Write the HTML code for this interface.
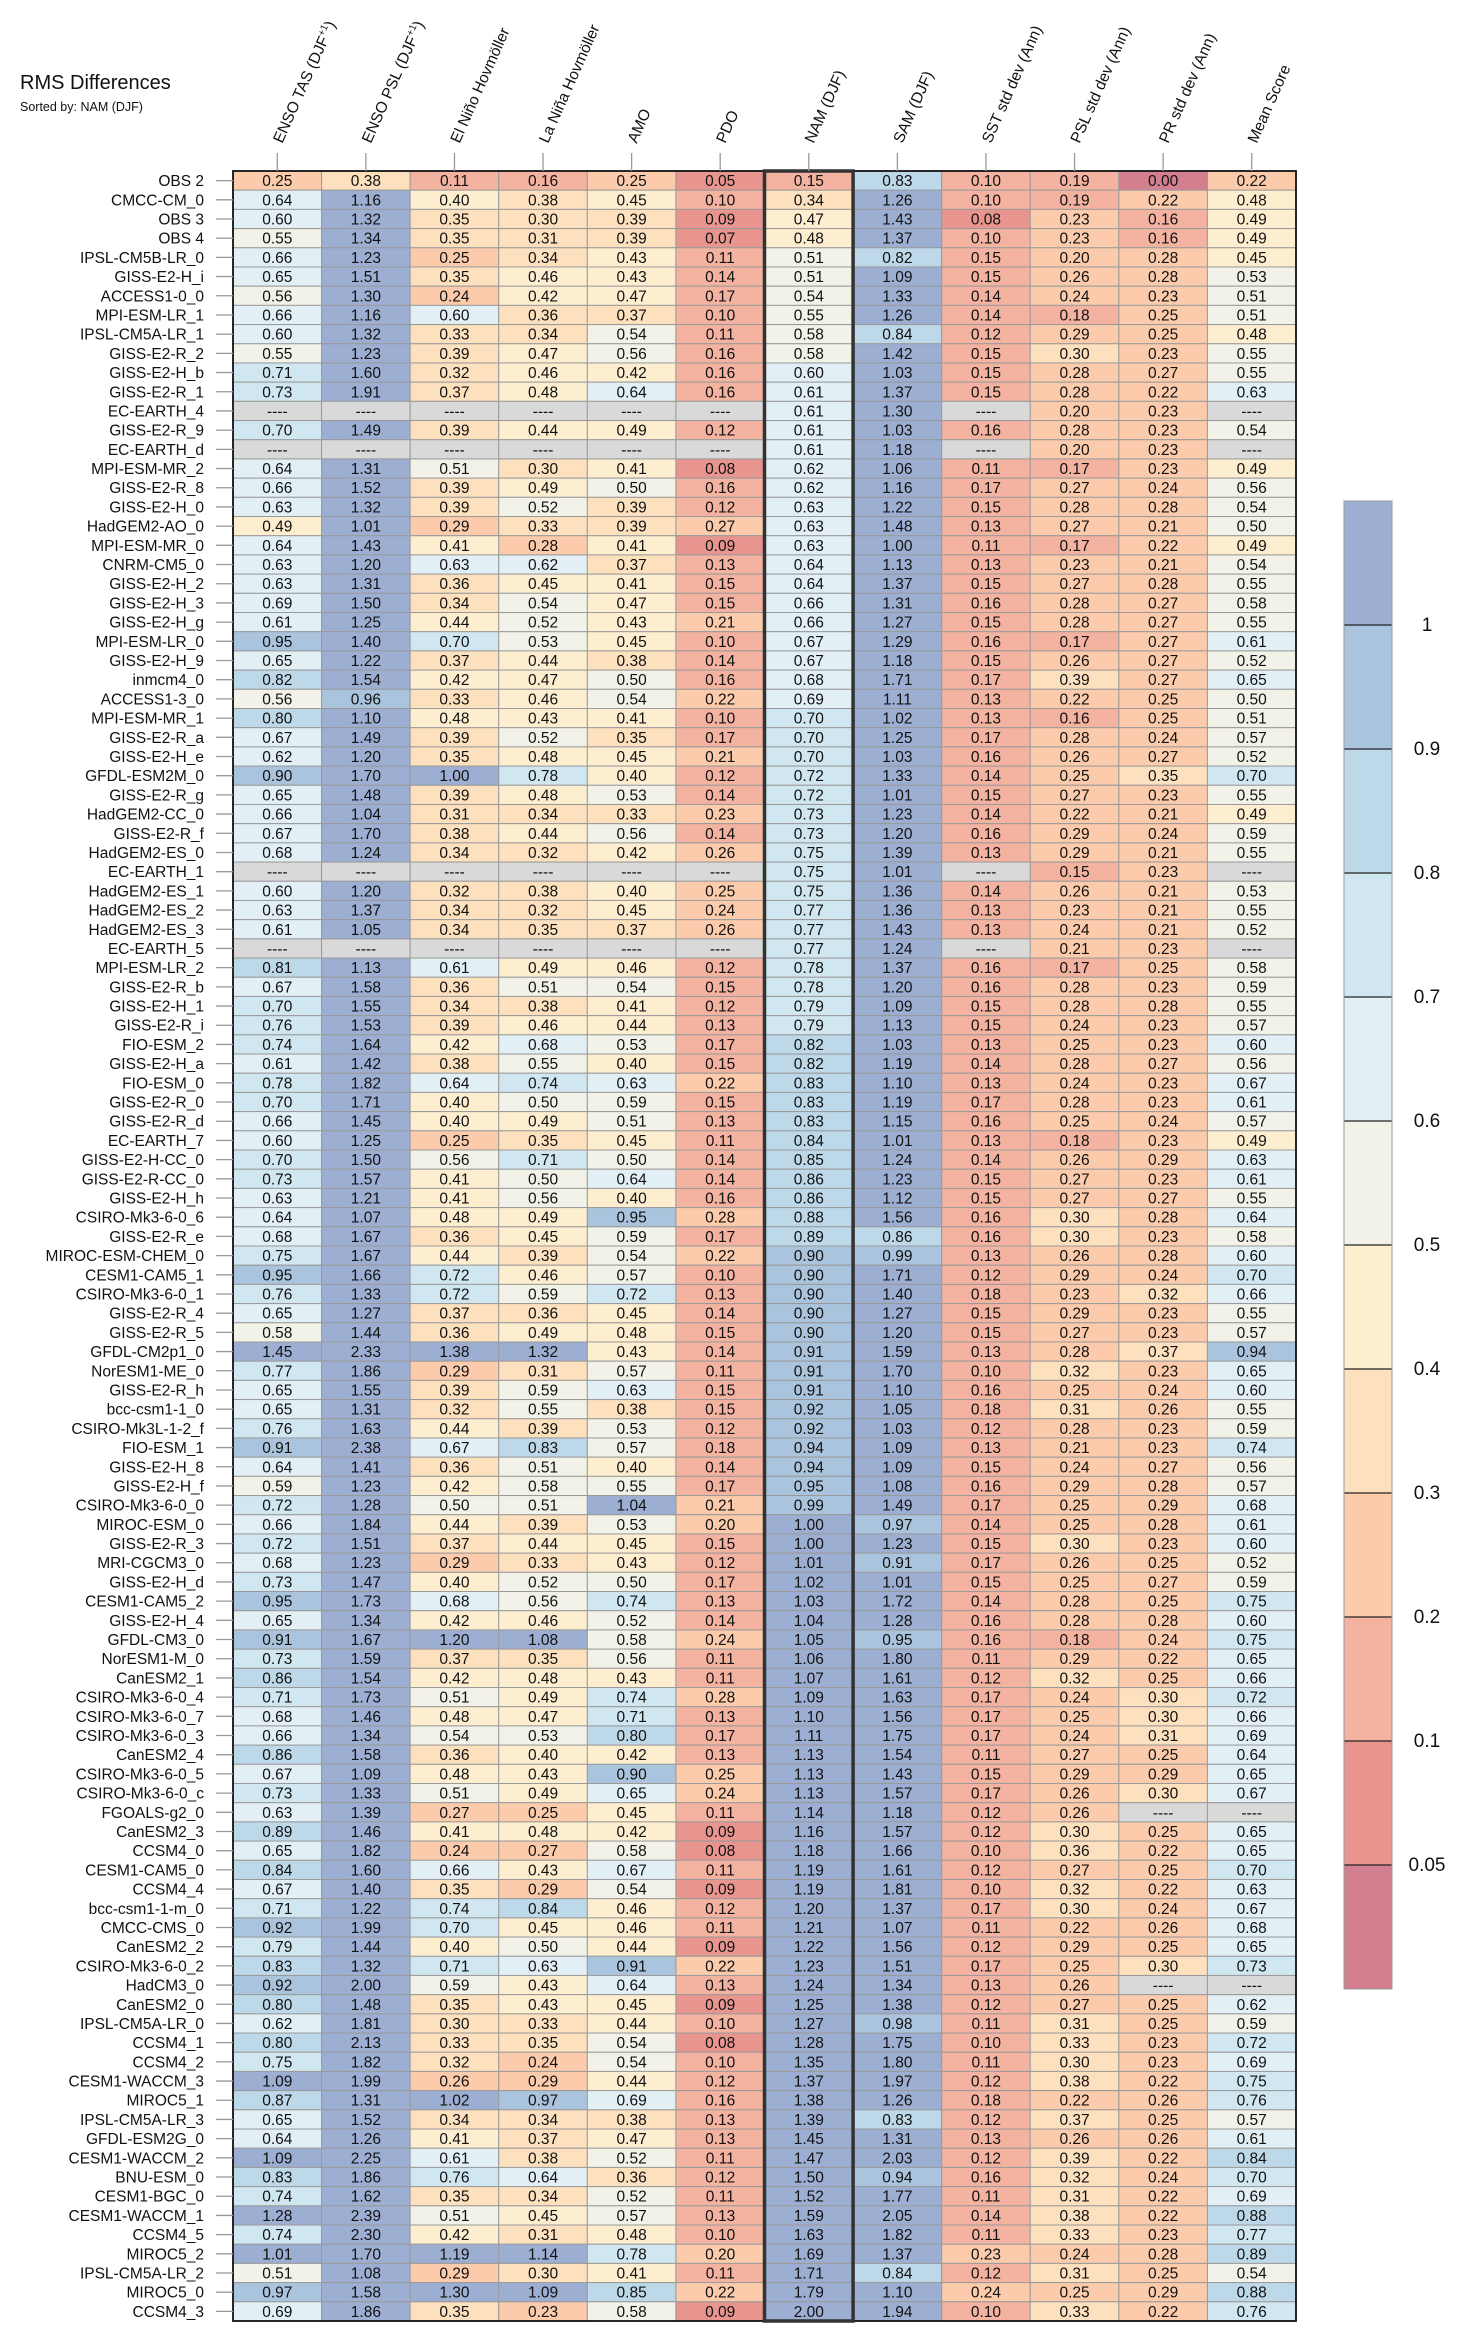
<!DOCTYPE html>
<html><head><meta charset="utf-8">
<style>
html,body{margin:0;padding:0;background:#fff;}
svg{display:block;font-family:"Liberation Sans",sans-serif;}
</style></head>
<body>
<svg id="chart" width="1469" height="2342" viewBox="0 0 1469 2342">
<text x="20" y="89" font-size="20" fill="#111">RMS Differences</text>
<text x="20" y="111" font-size="12.5" fill="#111">Sorted by: NAM (DJF)</text>
<g id="cells"></g><g id="rows"></g><g id="cols"></g><g id="cbar"></g>
</svg>
<script>
const metrics = ["ENSO TAS (DJF+1)","ENSO PSL (DJF+1)","El Niño Hovmöller","La Niña Hovmöller","AMO","PDO","NAM (DJF)","SAM (DJF)","SST std dev (Ann)","PSL std dev (Ann)","PR std dev (Ann)","Mean Score"];
const models = ["OBS 2","CMCC-CM_0","OBS 3","OBS 4","IPSL-CM5B-LR_0","GISS-E2-H_i","ACCESS1-0_0","MPI-ESM-LR_1","IPSL-CM5A-LR_1","GISS-E2-R_2","GISS-E2-H_b","GISS-E2-R_1","EC-EARTH_4","GISS-E2-R_9","EC-EARTH_d","MPI-ESM-MR_2","GISS-E2-R_8","GISS-E2-H_0","HadGEM2-AO_0","MPI-ESM-MR_0","CNRM-CM5_0","GISS-E2-H_2","GISS-E2-H_3","GISS-E2-H_g","MPI-ESM-LR_0","GISS-E2-H_9","inmcm4_0","ACCESS1-3_0","MPI-ESM-MR_1","GISS-E2-R_a","GISS-E2-H_e","GFDL-ESM2M_0","GISS-E2-R_g","HadGEM2-CC_0","GISS-E2-R_f","HadGEM2-ES_0","EC-EARTH_1","HadGEM2-ES_1","HadGEM2-ES_2","HadGEM2-ES_3","EC-EARTH_5","MPI-ESM-LR_2","GISS-E2-R_b","GISS-E2-H_1","GISS-E2-R_i","FIO-ESM_2","GISS-E2-H_a","FIO-ESM_0","GISS-E2-R_0","GISS-E2-R_d","EC-EARTH_7","GISS-E2-H-CC_0","GISS-E2-R-CC_0","GISS-E2-H_h","CSIRO-Mk3-6-0_6","GISS-E2-R_e","MIROC-ESM-CHEM_0","CESM1-CAM5_1","CSIRO-Mk3-6-0_1","GISS-E2-R_4","GISS-E2-R_5","GFDL-CM2p1_0","NorESM1-ME_0","GISS-E2-R_h","bcc-csm1-1_0","CSIRO-Mk3L-1-2_f","FIO-ESM_1","GISS-E2-H_8","GISS-E2-H_f","CSIRO-Mk3-6-0_0","MIROC-ESM_0","GISS-E2-R_3","MRI-CGCM3_0","GISS-E2-H_d","CESM1-CAM5_2","GISS-E2-H_4","GFDL-CM3_0","NorESM1-M_0","CanESM2_1","CSIRO-Mk3-6-0_4","CSIRO-Mk3-6-0_7","CSIRO-Mk3-6-0_3","CanESM2_4","CSIRO-Mk3-6-0_5","CSIRO-Mk3-6-0_c","FGOALS-g2_0","CanESM2_3","CCSM4_0","CESM1-CAM5_0","CCSM4_4","bcc-csm1-1-m_0","CMCC-CMS_0","CanESM2_2","CSIRO-Mk3-6-0_2","HadCM3_0","CanESM2_0","IPSL-CM5A-LR_0","CCSM4_1","CCSM4_2","CESM1-WACCM_3","MIROC5_1","IPSL-CM5A-LR_3","GFDL-ESM2G_0","CESM1-WACCM_2","BNU-ESM_0","CESM1-BGC_0","CESM1-WACCM_1","CCSM4_5","MIROC5_2","IPSL-CM5A-LR_2","MIROC5_0","CCSM4_3"];
const values = [
[.25,.38,.11,.16,.25,.05,.15,.83,.10,.19,.00,.22],
[.64,1.16,.40,.38,.45,.10,.34,1.26,.10,.19,.22,.48],
[.60,1.32,.35,.30,.39,.09,.47,1.43,.08,.23,.16,.49],
[.55,1.34,.35,.31,.39,.07,.48,1.37,.10,.23,.16,.49],
[.66,1.23,.25,.34,.43,.11,.51,.82,.15,.20,.28,.45],
[.65,1.51,.35,.46,.43,.14,.51,1.09,.15,.26,.28,.53],
[.56,1.30,.24,.42,.47,.17,.54,1.33,.14,.24,.23,.51],
[.66,1.16,.60,.36,.37,.10,.55,1.26,.14,.18,.25,.51],
[.60,1.32,.33,.34,.54,.11,.58,.84,.12,.29,.25,.48],
[.55,1.23,.39,.47,.56,.16,.58,1.42,.15,.30,.23,.55],
[.71,1.60,.32,.46,.42,.16,.60,1.03,.15,.28,.27,.55],
[.73,1.91,.37,.48,.64,.16,.61,1.37,.15,.28,.22,.63],
[null,null,null,null,null,null,.61,1.30,null,.20,.23,null],
[.70,1.49,.39,.44,.49,.12,.61,1.03,.16,.28,.23,.54],
[null,null,null,null,null,null,.61,1.18,null,.20,.23,null],
[.64,1.31,.51,.30,.41,.08,.62,1.06,.11,.17,.23,.49],
[.66,1.52,.39,.49,.50,.16,.62,1.16,.17,.27,.24,.56],
[.63,1.32,.39,.52,.39,.12,.63,1.22,.15,.28,.28,.54],
[.49,1.01,.29,.33,.39,.27,.63,1.48,.13,.27,.21,.50],
[.64,1.43,.41,.28,.41,.09,.63,1.00,.11,.17,.22,.49],
[.63,1.20,.63,.62,.37,.13,.64,1.13,.13,.23,.21,.54],
[.63,1.31,.36,.45,.41,.15,.64,1.37,.15,.27,.28,.55],
[.69,1.50,.34,.54,.47,.15,.66,1.31,.16,.28,.27,.58],
[.61,1.25,.44,.52,.43,.21,.66,1.27,.15,.28,.27,.55],
[.95,1.40,.70,.53,.45,.10,.67,1.29,.16,.17,.27,.61],
[.65,1.22,.37,.44,.38,.14,.67,1.18,.15,.26,.27,.52],
[.82,1.54,.42,.47,.50,.16,.68,1.71,.17,.39,.27,.65],
[.56,.96,.33,.46,.54,.22,.69,1.11,.13,.22,.25,.50],
[.80,1.10,.48,.43,.41,.10,.70,1.02,.13,.16,.25,.51],
[.67,1.49,.39,.52,.35,.17,.70,1.25,.17,.28,.24,.57],
[.62,1.20,.35,.48,.45,.21,.70,1.03,.16,.26,.27,.52],
[.90,1.70,1.00,.78,.40,.12,.72,1.33,.14,.25,.35,.70],
[.65,1.48,.39,.48,.53,.14,.72,1.01,.15,.27,.23,.55],
[.66,1.04,.31,.34,.33,.23,.73,1.23,.14,.22,.21,.49],
[.67,1.70,.38,.44,.56,.14,.73,1.20,.16,.29,.24,.59],
[.68,1.24,.34,.32,.42,.26,.75,1.39,.13,.29,.21,.55],
[null,null,null,null,null,null,.75,1.01,null,.15,.23,null],
[.60,1.20,.32,.38,.40,.25,.75,1.36,.14,.26,.21,.53],
[.63,1.37,.34,.32,.45,.24,.77,1.36,.13,.23,.21,.55],
[.61,1.05,.34,.35,.37,.26,.77,1.43,.13,.24,.21,.52],
[null,null,null,null,null,null,.77,1.24,null,.21,.23,null],
[.81,1.13,.61,.49,.46,.12,.78,1.37,.16,.17,.25,.58],
[.67,1.58,.36,.51,.54,.15,.78,1.20,.16,.28,.23,.59],
[.70,1.55,.34,.38,.41,.12,.79,1.09,.15,.28,.28,.55],
[.76,1.53,.39,.46,.44,.13,.79,1.13,.15,.24,.23,.57],
[.74,1.64,.42,.68,.53,.17,.82,1.03,.13,.25,.23,.60],
[.61,1.42,.38,.55,.40,.15,.82,1.19,.14,.28,.27,.56],
[.78,1.82,.64,.74,.63,.22,.83,1.10,.13,.24,.23,.67],
[.70,1.71,.40,.50,.59,.15,.83,1.19,.17,.28,.23,.61],
[.66,1.45,.40,.49,.51,.13,.83,1.15,.16,.25,.24,.57],
[.60,1.25,.25,.35,.45,.11,.84,1.01,.13,.18,.23,.49],
[.70,1.50,.56,.71,.50,.14,.85,1.24,.14,.26,.29,.63],
[.73,1.57,.41,.50,.64,.14,.86,1.23,.15,.27,.23,.61],
[.63,1.21,.41,.56,.40,.16,.86,1.12,.15,.27,.27,.55],
[.64,1.07,.48,.49,.95,.28,.88,1.56,.16,.30,.28,.64],
[.68,1.67,.36,.45,.59,.17,.89,.86,.16,.30,.23,.58],
[.75,1.67,.44,.39,.54,.22,.90,.99,.13,.26,.28,.60],
[.95,1.66,.72,.46,.57,.10,.90,1.71,.12,.29,.24,.70],
[.76,1.33,.72,.59,.72,.13,.90,1.40,.18,.23,.32,.66],
[.65,1.27,.37,.36,.45,.14,.90,1.27,.15,.29,.23,.55],
[.58,1.44,.36,.49,.48,.15,.90,1.20,.15,.27,.23,.57],
[1.45,2.33,1.38,1.32,.43,.14,.91,1.59,.13,.28,.37,.94],
[.77,1.86,.29,.31,.57,.11,.91,1.70,.10,.32,.23,.65],
[.65,1.55,.39,.59,.63,.15,.91,1.10,.16,.25,.24,.60],
[.65,1.31,.32,.55,.38,.15,.92,1.05,.18,.31,.26,.55],
[.76,1.63,.44,.39,.53,.12,.92,1.03,.12,.28,.23,.59],
[.91,2.38,.67,.83,.57,.18,.94,1.09,.13,.21,.23,.74],
[.64,1.41,.36,.51,.40,.14,.94,1.09,.15,.24,.27,.56],
[.59,1.23,.42,.58,.55,.17,.95,1.08,.16,.29,.28,.57],
[.72,1.28,.50,.51,1.04,.21,.99,1.49,.17,.25,.29,.68],
[.66,1.84,.44,.39,.53,.20,1.00,.97,.14,.25,.28,.61],
[.72,1.51,.37,.44,.45,.15,1.00,1.23,.15,.30,.23,.60],
[.68,1.23,.29,.33,.43,.12,1.01,.91,.17,.26,.25,.52],
[.73,1.47,.40,.52,.50,.17,1.02,1.01,.15,.25,.27,.59],
[.95,1.73,.68,.56,.74,.13,1.03,1.72,.14,.28,.25,.75],
[.65,1.34,.42,.46,.52,.14,1.04,1.28,.16,.28,.28,.60],
[.91,1.67,1.20,1.08,.58,.24,1.05,.95,.16,.18,.24,.75],
[.73,1.59,.37,.35,.56,.11,1.06,1.80,.11,.29,.22,.65],
[.86,1.54,.42,.48,.43,.11,1.07,1.61,.12,.32,.25,.66],
[.71,1.73,.51,.49,.74,.28,1.09,1.63,.17,.24,.30,.72],
[.68,1.46,.48,.47,.71,.13,1.10,1.56,.17,.25,.30,.66],
[.66,1.34,.54,.53,.80,.17,1.11,1.75,.17,.24,.31,.69],
[.86,1.58,.36,.40,.42,.13,1.13,1.54,.11,.27,.25,.64],
[.67,1.09,.48,.43,.90,.25,1.13,1.43,.15,.29,.29,.65],
[.73,1.33,.51,.49,.65,.24,1.13,1.57,.17,.26,.30,.67],
[.63,1.39,.27,.25,.45,.11,1.14,1.18,.12,.26,null,null],
[.89,1.46,.41,.48,.42,.09,1.16,1.57,.12,.30,.25,.65],
[.65,1.82,.24,.27,.58,.08,1.18,1.66,.10,.36,.22,.65],
[.84,1.60,.66,.43,.67,.11,1.19,1.61,.12,.27,.25,.70],
[.67,1.40,.35,.29,.54,.09,1.19,1.81,.10,.32,.22,.63],
[.71,1.22,.74,.84,.46,.12,1.20,1.37,.17,.30,.24,.67],
[.92,1.99,.70,.45,.46,.11,1.21,1.07,.11,.22,.26,.68],
[.79,1.44,.40,.50,.44,.09,1.22,1.56,.12,.29,.25,.65],
[.83,1.32,.71,.63,.91,.22,1.23,1.51,.17,.25,.30,.73],
[.92,2.00,.59,.43,.64,.13,1.24,1.34,.13,.26,null,null],
[.80,1.48,.35,.43,.45,.09,1.25,1.38,.12,.27,.25,.62],
[.62,1.81,.30,.33,.44,.10,1.27,.98,.11,.31,.25,.59],
[.80,2.13,.33,.35,.54,.08,1.28,1.75,.10,.33,.23,.72],
[.75,1.82,.32,.24,.54,.10,1.35,1.80,.11,.30,.23,.69],
[1.09,1.99,.26,.29,.44,.12,1.37,1.97,.12,.38,.22,.75],
[.87,1.31,1.02,.97,.69,.16,1.38,1.26,.18,.22,.26,.76],
[.65,1.52,.34,.34,.38,.13,1.39,.83,.12,.37,.25,.57],
[.64,1.26,.41,.37,.47,.13,1.45,1.31,.13,.26,.26,.61],
[1.09,2.25,.61,.38,.52,.11,1.47,2.03,.12,.39,.22,.84],
[.83,1.86,.76,.64,.36,.12,1.50,.94,.16,.32,.24,.70],
[.74,1.62,.35,.34,.52,.11,1.52,1.77,.11,.31,.22,.69],
[1.28,2.39,.51,.45,.57,.13,1.59,2.05,.14,.38,.22,.88],
[.74,2.30,.42,.31,.48,.10,1.63,1.82,.11,.33,.23,.77],
[1.01,1.70,1.19,1.14,.78,.20,1.69,1.37,.23,.24,.28,.89],
[.51,1.08,.29,.30,.41,.11,1.71,.84,.12,.31,.25,.54],
[.97,1.58,1.30,1.09,.85,.22,1.79,1.10,.24,.25,.29,.88],
[.69,1.86,.35,.23,.58,.09,2.00,1.94,.10,.33,.22,.76]
];
const levels = [0.05,0.1,0.2,0.3,0.4,0.5,0.6,0.7,0.8,0.9,1];
const levelLabels = ["0.05","0.1","0.2","0.3","0.4","0.5","0.6","0.7","0.8","0.9","1"];
const palette = ["#d47f8f","#e9958f","#f4b2a0","#fbcbab","#fde0bd","#fdeed0","#f3f2e8","#e2f0f5","#d0e6f0","#bdd8e9","#abc4dd","#9daed3"];
const sortedIndex = 6;

const NS = "http://www.w3.org/2000/svg";
const X0 = 233, Y0 = 171, CW = (1296-233)/12, RH = (2321-171)/112;
function xAt(c){ return X0 + c*CW; }
function yAt(r){ return Y0 + r*RH; }
function colorFor(v){ if(v===null) return "#d9d9d9"; let i=0; while(i<levels.length && v>=levels[i]-1e-9) i++; return palette[i]; }
function mk(tag, attrs, parent){ const e=document.createElementNS(NS,tag); for(const k in attrs) e.setAttribute(k,attrs[k]); parent.appendChild(e); return e; }

const gCells=document.getElementById('cells'), gRows=document.getElementById('rows'), gCols=document.getElementById('cols'), gBar=document.getElementById('cbar');

values.forEach((row,r)=>{
  row.forEach((v,c)=>{
    const rect=mk('rect',{x:xAt(c),y:yAt(r),width:CW,height:RH,fill:colorFor(v),stroke:"#9a9a9a","stroke-width":1},gCells);
    
    
    const t=mk('text',{x:xAt(c)+CW/2,y:yAt(r)+RH/2+5.5,"text-anchor":"middle","font-size":15.5,fill:"#111"},gCells);
    t.textContent = v===null ? "----" : v.toFixed(2);
    
    
  });
  const lab=mk('text',{x:204,y:yAt(r)+RH/2+5.5,"text-anchor":"end","font-size":15.5,fill:"#111"},gRows);
  lab.textContent=models[r];
  
  
  const tk=mk('line',{x1:216,x2:X0,y1:yAt(r)+RH/2,y2:yAt(r)+RH/2,stroke:"#999","stroke-width":1.3},gRows);
  
  
});
const outline=mk('rect',{x:X0,y:Y0,width:CW*12,height:RH*values.length,fill:"none",stroke:"#111","stroke-width":1.8},gCells);


const hl=mk('rect',{x:xAt(sortedIndex),y:Y0,width:CW,height:RH*values.length,fill:"none",stroke:"#333","stroke-width":3.5},gCells);



metrics.forEach((m,c)=>{
  const cx=xAt(c)+CW/2;
  const tk=mk('line',{x1:cx,x2:cx,y1:153,y2:Y0,stroke:"#999","stroke-width":1.3},gCols);
  
  
  const t=mk('text',{x:0,y:0,"font-size":15.5,fill:"#111",transform:`translate(${cx+5},144) rotate(-66)`},gCols);
  if(m.endsWith("(DJF+1)")){
    t.appendChild(document.createTextNode(m.replace("(DJF+1)","(DJF")));
    const s=document.createElementNS(NS,'tspan'); s.setAttribute('font-size','10'); s.setAttribute('dy','-6'); s.textContent='+1'; t.appendChild(s);
    const s2=document.createElementNS(NS,'tspan'); s2.setAttribute('dy','6'); s2.textContent=')'; t.appendChild(s2);
  } else t.textContent=m;
  
  
});

const BX=1344, BW=48, BT=501, BH=124;
for(let i=0;i<palette.length;i++){
  const band=mk('rect',{x:BX,y:BT+(palette.length-1-i)*BH,width:BW,height:BH,fill:palette[i]},gBar);
  
  
}
levels.forEach((lv,i)=>{
  const y=BT+(palette.length-1-i)*BH;
  const ln=mk('line',{x1:BX,x2:BX+BW,y1:y,y2:y,stroke:"#222","stroke-width":1.2},gBar);
  
  
  const t=mk('text',{x:1427,y:y+6,"text-anchor":"middle","font-size":19,fill:"#111"},gBar);
  t.textContent=levelLabels[i];
  
  
});
const bo=mk('rect',{x:BX,y:BT,width:BW,height:BH*12,fill:"none",stroke:"#999","stroke-width":1},gBar);


</script>
</body></html>
